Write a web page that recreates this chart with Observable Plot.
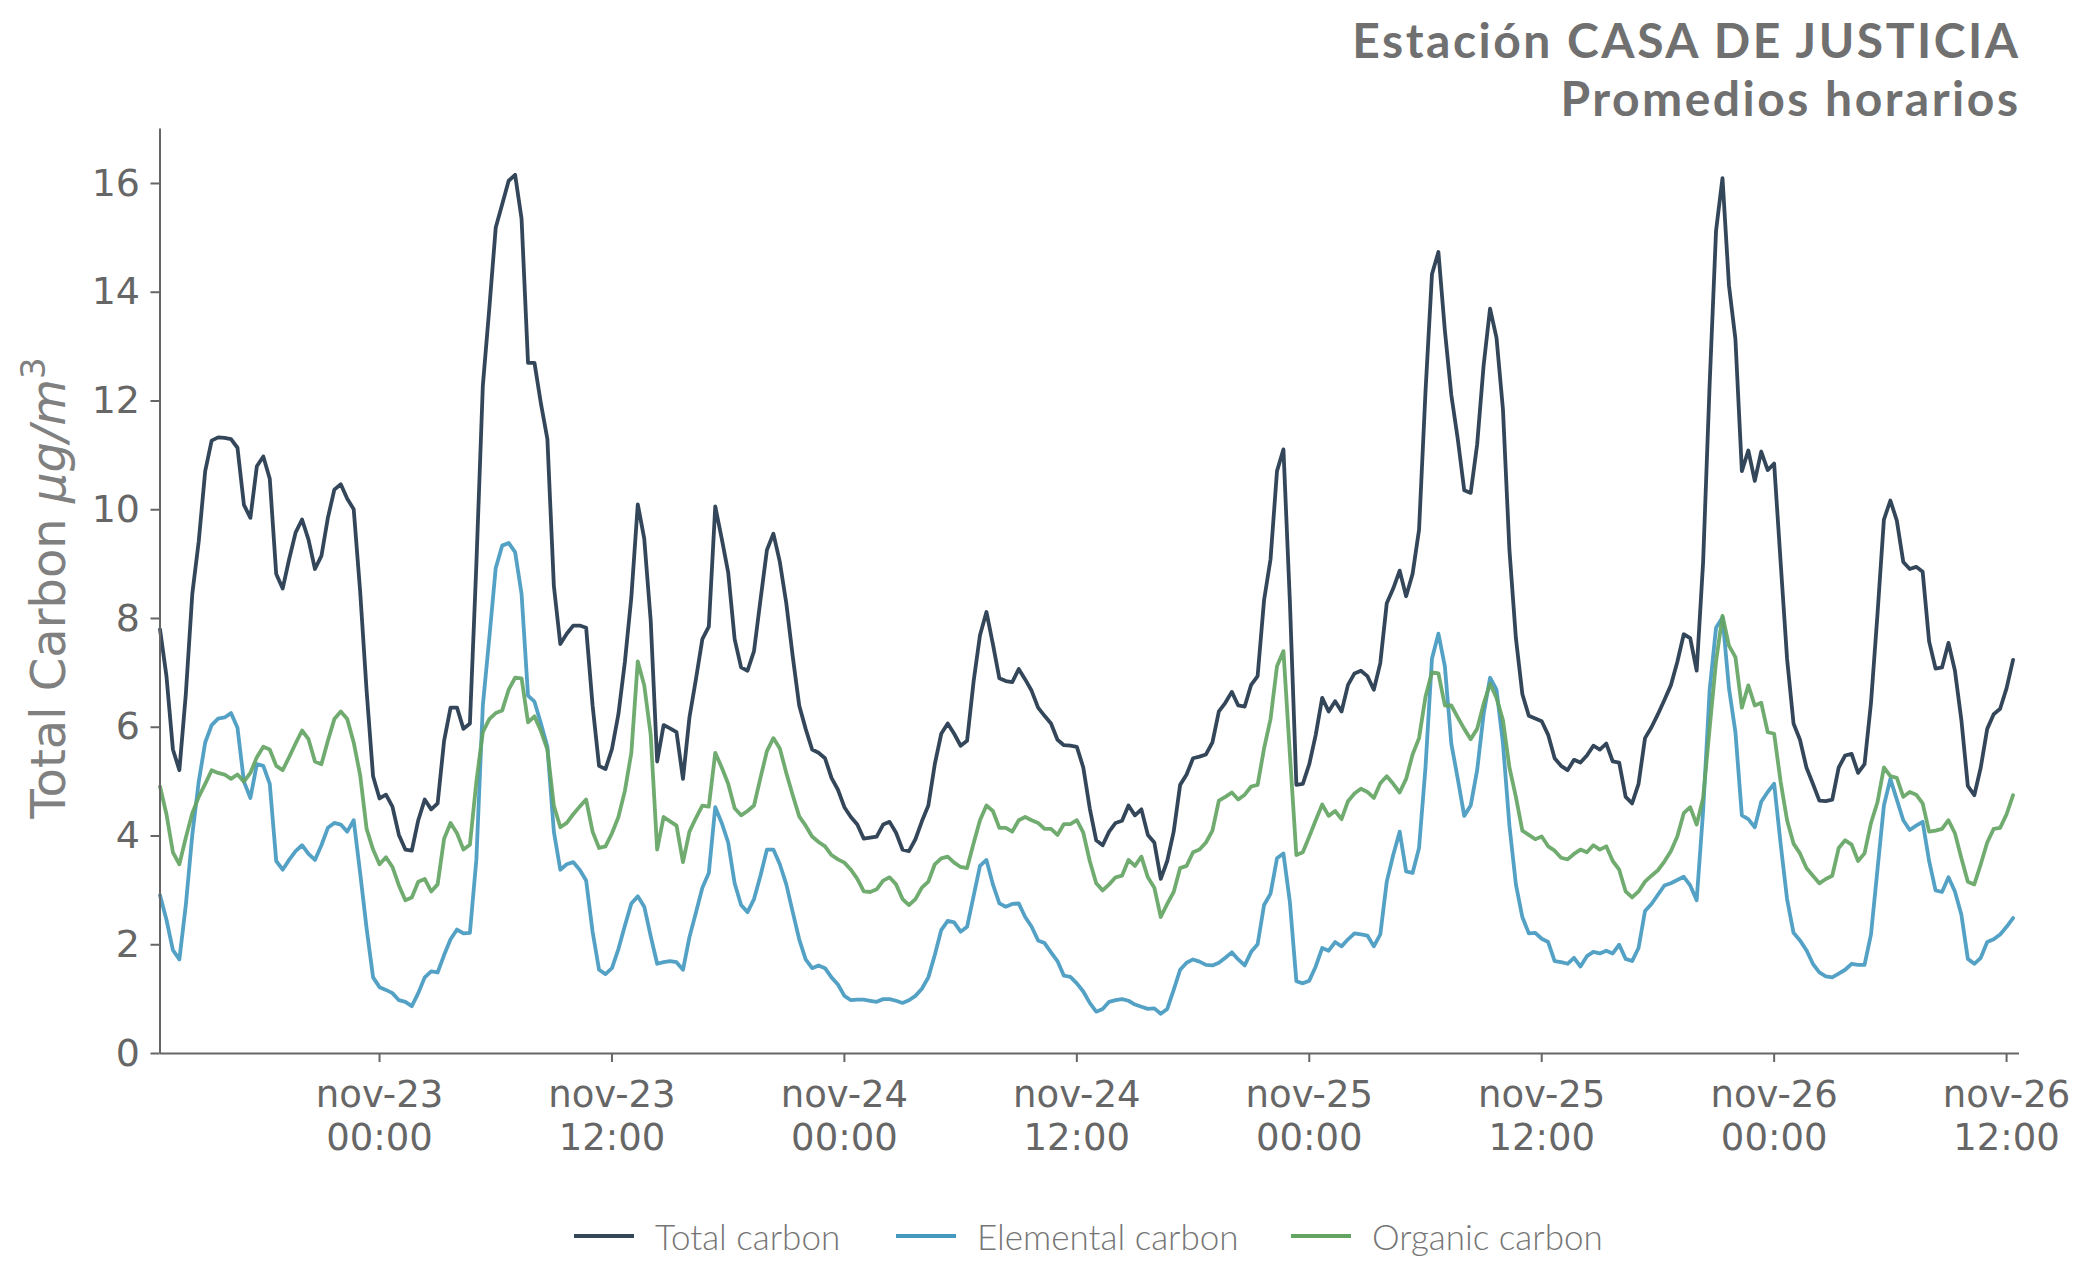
<!DOCTYPE html>
<html>
<head>
<meta charset="utf-8">
<script src="https://cdn.jsdelivr.net/npm/d3@7"></script>
<script src="https://cdn.jsdelivr.net/npm/@observablehq/plot@0.6"></script>
<style>
  html, body { margin: 0; padding: 0; background: #fff; }
  #page { position: relative; width: 2093px; height: 1288px; overflow: hidden; }
  .title { position: absolute; right: 72.5px; text-align: right; white-space: nowrap;
    font-family: Lato, "Open Sans", sans-serif; font-weight: 700; font-size: 48px;
    letter-spacing: 2.5px; line-height: 52px; color: #707070; }
  #chart { position: absolute; left: 0; top: 120px; }
  .lg { position: absolute; top: 1214px; height: 44px; display: flex; align-items: center;
    font-family: Lato, "Open Sans", sans-serif; font-weight: 300; font-size: 35px; color: #757575; }
  .lg .sw { width: 60px; height: 4px; margin-right: 21px; }
</style>
</head>
<body>
<div id="page">
  <div class="title" style="top:14.4px">Estación CASA DE JUSTICIA</div>
  <div class="title" style="top:72.4px">Promedios horarios</div>
  <div id="chart"></div>
  <div id="legend"></div>
</div>
<script>
// ---- data (20-minute averages) ----
const startTime = Date.UTC(2021, 10, 22, 12, 40); // nov-22 12:40
const stepMinutes = 20;
const endDomain = Date.UTC(2021, 10, 26, 12, 40);

const totalCarbon = [
7.8,6.94,5.59,5.21,6.61,8.45,9.42,10.71,11.27,11.33,11.32,11.3,11.14,10.09,9.85,10.8,10.98,10.57,8.82,8.55,
9.09,9.58,9.82,9.45,8.91,9.15,9.85,10.37,10.47,10.2,10.01,8.5,6.67,5.1,4.69,4.76,4.54,4.02,3.75,3.73,
4.29,4.67,4.49,4.6,5.75,6.36,6.36,5.97,6.07,9.0,12.28,13.7,15.19,15.62,16.05,16.16,15.35,12.7,12.7,11.95,
11.3,8.6,7.53,7.72,7.87,7.87,7.83,6.4,5.29,5.23,5.6,6.24,7.2,8.39,10.1,9.47,7.96,5.37,6.04,5.98,
5.91,5.05,6.18,6.88,7.62,7.85,10.06,9.47,8.85,7.62,7.1,7.04,7.4,8.34,9.26,9.56,9.04,8.28,7.3,6.4,
5.97,5.59,5.53,5.43,5.07,4.85,4.53,4.35,4.21,3.95,3.97,3.99,4.21,4.26,4.06,3.75,3.72,3.94,4.27,4.56,
5.32,5.88,6.07,5.88,5.66,5.75,6.83,7.69,8.12,7.53,6.9,6.85,6.83,7.07,6.88,6.67,6.36,6.21,6.07,5.77,
5.67,5.66,5.64,5.26,4.51,3.92,3.83,4.08,4.24,4.28,4.56,4.38,4.49,4.02,3.88,3.21,3.54,4.08,4.94,5.13,
5.43,5.46,5.5,5.72,6.29,6.45,6.65,6.4,6.38,6.78,6.94,8.34,9.09,10.71,11.11,8.3,4.94,4.96,5.32,5.86,
6.54,6.29,6.48,6.29,6.78,6.99,7.04,6.94,6.69,7.18,8.28,8.55,8.88,8.41,8.82,9.63,12.17,14.33,14.74,13.3,
12.11,11.3,10.36,10.31,11.2,12.65,13.7,13.16,11.84,9.26,7.64,6.61,6.21,6.16,6.11,5.86,5.43,5.29,5.21,5.4,
5.35,5.48,5.66,5.59,5.7,5.37,5.35,4.72,4.6,4.96,5.8,6.0,6.24,6.5,6.77,7.2,7.71,7.64,7.04,9.04,
12.28,15.13,16.1,14.13,13.14,10.71,11.09,10.53,11.07,10.73,10.85,9.04,7.26,6.07,5.77,5.26,4.96,4.65,4.64,4.67,
5.26,5.48,5.51,5.16,5.32,6.45,8.07,9.82,10.17,9.8,9.04,8.91,8.95,8.86,7.58,7.08,7.1,7.55,7.04,6.13,
4.92,4.75,5.26,5.97,6.24,6.34,6.72,7.24
];

const elementalCarbon = [
2.91,2.46,1.9,1.73,2.73,4.02,5.0,5.72,6.04,6.16,6.18,6.26,5.99,5.0,4.7,5.32,5.29,4.96,3.54,3.38,
3.56,3.72,3.83,3.67,3.56,3.83,4.15,4.24,4.21,4.08,4.29,3.32,2.3,1.4,1.22,1.17,1.11,0.98,0.95,0.87,
1.11,1.4,1.51,1.49,1.81,2.1,2.28,2.21,2.22,3.57,6.4,7.64,8.93,9.34,9.39,9.22,8.45,6.58,6.47,6.07,
5.64,4.08,3.38,3.48,3.52,3.38,3.18,2.24,1.54,1.46,1.57,1.92,2.35,2.76,2.89,2.7,2.16,1.65,1.68,1.7,
1.68,1.54,2.14,2.59,3.05,3.32,4.53,4.24,3.88,3.13,2.73,2.6,2.84,3.27,3.75,3.75,3.48,3.11,2.6,2.1,
1.73,1.57,1.62,1.57,1.4,1.27,1.06,0.98,0.99,0.99,0.97,0.95,1.0,1.0,0.97,0.93,0.98,1.06,1.19,1.4,
1.81,2.27,2.44,2.41,2.24,2.33,2.89,3.45,3.56,3.11,2.76,2.7,2.75,2.76,2.51,2.33,2.08,2.03,1.86,1.7,
1.43,1.41,1.29,1.14,0.93,0.77,0.82,0.95,0.98,1.0,0.97,0.9,0.86,0.82,0.83,0.73,0.82,1.17,1.54,1.67,
1.73,1.69,1.63,1.62,1.67,1.76,1.86,1.73,1.62,1.87,2.01,2.73,2.94,3.59,3.68,2.78,1.33,1.29,1.34,1.6,
1.94,1.89,2.05,1.97,2.1,2.21,2.19,2.17,1.97,2.19,3.16,3.65,4.08,3.35,3.32,3.78,5.26,7.26,7.72,7.12,
5.7,5.05,4.37,4.56,5.21,6.24,6.91,6.69,5.7,4.19,3.11,2.51,2.21,2.22,2.11,2.05,1.7,1.68,1.65,1.76,
1.6,1.79,1.87,1.84,1.89,1.84,2.0,1.74,1.7,1.94,2.62,2.75,2.92,3.09,3.13,3.19,3.25,3.09,2.82,4.46,
6.67,7.83,8.02,6.72,5.91,4.38,4.31,4.16,4.63,4.81,4.96,3.86,2.84,2.22,2.08,1.9,1.65,1.49,1.42,1.4,
1.47,1.54,1.65,1.63,1.63,2.19,3.38,4.56,5.05,4.67,4.29,4.11,4.19,4.26,3.54,3.0,2.97,3.24,2.98,2.55,
1.74,1.65,1.76,2.05,2.1,2.19,2.33,2.49
];

const organicCarbon = [
4.91,4.4,3.7,3.48,3.97,4.42,4.72,4.96,5.21,5.16,5.13,5.05,5.13,5.0,5.16,5.45,5.64,5.59,5.29,5.21,
5.45,5.7,5.94,5.78,5.37,5.32,5.75,6.15,6.29,6.15,5.72,5.12,4.13,3.75,3.48,3.61,3.43,3.09,2.82,2.87,
3.16,3.21,2.98,3.11,3.95,4.24,4.05,3.75,3.84,5.0,5.91,6.15,6.26,6.31,6.69,6.91,6.9,6.09,6.2,5.93,
5.59,4.56,4.16,4.24,4.4,4.54,4.67,4.08,3.78,3.81,4.05,4.35,4.83,5.53,7.21,6.77,5.86,3.75,4.35,4.27,
4.19,3.52,4.08,4.33,4.56,4.54,5.53,5.26,4.96,4.51,4.38,4.46,4.56,5.07,5.56,5.8,5.61,5.16,4.75,4.36,
4.19,3.99,3.89,3.81,3.65,3.57,3.51,3.38,3.21,2.98,2.97,3.02,3.18,3.24,3.11,2.84,2.73,2.84,3.05,3.16,
3.48,3.59,3.62,3.51,3.43,3.41,3.86,4.29,4.56,4.46,4.15,4.15,4.08,4.29,4.35,4.29,4.24,4.13,4.13,4.02,
4.22,4.22,4.29,4.06,3.54,3.13,3.0,3.11,3.24,3.27,3.56,3.45,3.62,3.24,3.05,2.51,2.75,2.97,3.41,3.45,
3.7,3.75,3.88,4.1,4.65,4.72,4.8,4.67,4.76,4.91,4.94,5.61,6.15,7.12,7.4,5.5,3.65,3.7,3.99,4.29,
4.58,4.37,4.46,4.31,4.64,4.78,4.87,4.81,4.7,4.97,5.1,4.96,4.8,5.05,5.5,5.8,6.56,7.01,6.99,6.4,
6.4,6.18,5.97,5.78,5.97,6.43,6.8,6.54,6.13,5.26,4.72,4.1,4.02,3.94,3.99,3.81,3.73,3.6,3.57,3.67,
3.75,3.7,3.83,3.75,3.81,3.54,3.38,2.98,2.87,2.98,3.16,3.27,3.37,3.53,3.72,3.99,4.42,4.53,4.21,4.7,
5.97,7.21,8.05,7.5,7.29,6.36,6.77,6.4,6.45,5.91,5.88,5.0,4.29,3.86,3.68,3.41,3.27,3.13,3.21,3.27,
3.78,3.92,3.84,3.54,3.68,4.24,4.62,5.26,5.1,5.07,4.72,4.81,4.76,4.6,4.08,4.1,4.13,4.29,4.05,3.59,
3.16,3.11,3.48,3.88,4.13,4.15,4.4,4.75
];

const seriesNames = ["Total carbon", "Elemental carbon", "Organic carbon"];
const seriesColors = ["#34475a", "#4599c1", "#64a463"];
const seriesOpacity = [1, 0.92, 0.92];
const yTicks = [0, 2, 4, 6, 8, 10, 12, 14, 16];
const xTicks = [
  "2021-11-23T00:00Z", "2021-11-23T12:00Z", "2021-11-24T00:00Z", "2021-11-24T12:00Z",
  "2021-11-25T00:00Z", "2021-11-25T12:00Z", "2021-11-26T00:00Z", "2021-11-26T12:00Z"
].map(s => new Date(s));
const monthLabel = "nov";

// ---- build table ----
const seriesValues = [totalCarbon, elementalCarbon, organicCarbon];
const rows = [];
seriesValues.forEach((vals, k) => vals.forEach((v, i) => rows.push({
  t: new Date(startTime + i * stepMinutes * 60000), v, s: seriesNames[k]
})));

const W = 2093, H = 1080;
const axisGray = "#666666";
const plot = Plot.plot({
  width: W, height: H,
  marginLeft: 159.5, marginRight: 74, marginTop: 8.6, marginBottom: 147,
  style: { fontFamily: "'DejaVu Sans', sans-serif", background: "white", overflow: "visible" },
  x: { type: "utc", domain: [new Date(startTime), new Date(endDomain)] },
  y: { domain: [0, 17] },
  marks: [
    ...seriesNames.map((name, k) => Plot.lineY(rows.filter(r => r.s === name), {
      x: "t", y: "v", stroke: seriesColors[k], strokeWidth: 3.8, strokeOpacity: seriesOpacity[k],
      strokeLinejoin: "round", curve: "linear"
    })),
    Plot.ruleY([0], { stroke: axisGray, strokeWidth: 2 }),
    Plot.ruleX([new Date(startTime)], { stroke: axisGray, strokeWidth: 2 }),
    Plot.axisY({ ticks: yTicks, tickSize: 9, tickPadding: 11, fontSize: 38, color: axisGray,
      stroke: axisGray, strokeWidth: 2, label: null, tickFormat: d => String(d) }),
    Plot.axisX({ ticks: xTicks, tickSize: 9, tickPadding: 14, fontSize: 37, color: axisGray,
      stroke: axisGray, strokeWidth: 2, label: null, lineHeight: 1.16,
      tickFormat: d => `${monthLabel}-${d3.utcFormat("%d")(d)}\n${d3.utcFormat("%H:%M")(d)}` })
  ]
});
document.getElementById("chart").appendChild(plot);

// y-axis label with italic unit and superscript
const svg = d3.select(plot);
const lab = svg.append("text")
  .attr("transform", "translate(65,468) rotate(-90)")
  .attr("text-anchor", "middle")
  .attr("fill", "#808080")
  .attr("font-family", "'DejaVu Sans', sans-serif")
  .attr("font-size", 48);
lab.append("tspan").text("Total Carbon ");
lab.append("tspan").attr("font-style", "italic").text("μg/m");
lab.append("tspan").attr("font-size", 34).attr("dy", -20).text("3");

// legend
const legendLeft = [574, 896, 1291];
const lg = d3.select("#legend");
seriesNames.forEach((name, k) => {
  const e = lg.append("div").attr("class", "lg").style("left", legendLeft[k] + "px");
  e.append("div").attr("class", "sw").style("background", seriesColors[k]);
  e.append("span").text(name);
});
</script>
</body>
</html>
